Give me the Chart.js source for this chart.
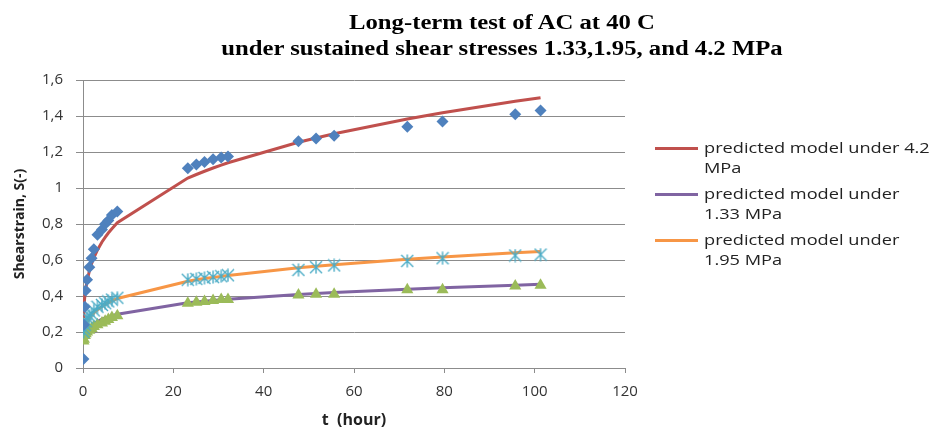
<!DOCTYPE html>
<html>
<head>
<meta charset="utf-8">
<script src="https://cdn.jsdelivr.net/npm/chart.js@4.4.0/dist/chart.umd.min.js"></script>
<style>
  html, body { margin: 0; padding: 0; background: #fff; }
  #wrap { position: relative; width: 934px; height: 430px; overflow: hidden; }
  #chart { position: absolute; left: 0; top: 0; }
  #title {
    position: absolute; left: 102px; width: 800px; top: 9px;
    text-align: center; white-space: nowrap;
    font-family: "Liberation Serif", serif; font-weight: bold;
    font-size: 20px; line-height: 26px; color: #000;
    transform: scaleX(1.235); transform-origin: 50% 50%;
  }
  .item { position: absolute; left: 655px; }
  .sw { position: absolute; left: 0; top: 9px; width: 43px; height: 3px; }
  .txt {
    position: absolute; left: 49px; top: 0; white-space: nowrap;
    font-family: "Open Sans", sans-serif; font-size: 14px; line-height: 20px; color: #222;
    transform: scaleX(1.3); transform-origin: 0 50%;
  }
</style>
</head>
<body>
<div id="wrap">
  <canvas id="chart" width="934" height="430"></canvas>
  <div id="title">Long-term test of AC at 40 C<br>under sustained shear stresses 1.33,1.95, and 4.2 MPa</div>
  <div id="legend"></div>
</div>
<script>
// time of each reading (hours)
const timeHours = [0.1, 0.2, 0.4, 0.6, 0.9, 1.4, 1.9, 2.4, 3.2, 4.2, 4.9, 5.6, 6.4, 7.6,
  23.2, 25.1, 26.9, 28.8, 30.6, 32.1, 47.7, 51.6, 55.6, 71.8, 79.6, 95.7, 101.3];

// measured shear strain
const measured42 = [0.05, 0.24, 0.34, 0.43, 0.49, 0.56, 0.61, 0.66, 0.74, 0.77, 0.80, 0.82, 0.85, 0.87,
  1.11, 1.13, 1.145, 1.16, 1.17, 1.175, 1.26, 1.275, 1.29, 1.34, 1.37, 1.41, 1.43];
const measured195 = [0.20, 0.22, 0.24, 0.26, 0.28, 0.29, 0.30, 0.32, 0.34, 0.35, 0.36, 0.37, 0.38, 0.39,
  0.49, 0.495, 0.50, 0.505, 0.51, 0.515, 0.545, 0.56, 0.57, 0.595, 0.61, 0.625, 0.63];
const measured133 = [0.15, 0.16, 0.18, 0.19, 0.20, 0.21, 0.22, 0.23, 0.24, 0.25, 0.26, 0.27, 0.28, 0.29,
  0.36, 0.365, 0.37, 0.375, 0.38, 0.38, 0.405, 0.41, 0.41, 0.435, 0.435, 0.455, 0.46];

// predicted model curves
const model42 = [0.285, 0.337, 0.398, 0.439, 0.483, 0.538, 0.579, 0.612, 0.656, 0.70, 0.726, 0.75, 0.774, 0.807,
  1.055, 1.075, 1.093, 1.111, 1.127, 1.14, 1.254, 1.278, 1.301, 1.383, 1.418, 1.482, 1.502];
const model133 = [0.143, 0.161, 0.181, 0.194, 0.208, 0.224, 0.236, 0.246, 0.258, 0.271, 0.278, 0.284, 0.291, 0.299,
  0.362, 0.367, 0.371, 0.375, 0.379, 0.382, 0.409, 0.414, 0.42, 0.438, 0.446, 0.46, 0.465];
const model195 = [0.162, 0.186, 0.214, 0.232, 0.252, 0.275, 0.292, 0.306, 0.324, 0.342, 0.353, 0.363, 0.373, 0.386,
  0.482, 0.49, 0.497, 0.503, 0.509, 0.514, 0.557, 0.565, 0.574, 0.604, 0.617, 0.64, 0.647];

const yTickLabels = ["0", "0,2", "0,4", "0,6", "0,8", "1", "1,2", "1,4", "1,6"];
const legendLabels = [
  ["predicted model under 4.2", "MPa"],
  ["predicted model under", "1.33 MPa"],
  ["predicted model under", "1.95 MPa"]
];
const legendColors = ["#C0504D", "#8064A2", "#F79646"];

const toPoints = (vals) => vals.map((v, i) => ({ x: timeHours[i], y: v }));

// excel style asterisk marker
function makeStar(color, size) {
  const c = document.createElement("canvas");
  c.width = size; c.height = size;
  const g = c.getContext("2d");
  g.strokeStyle = color;
  g.lineWidth = 1.4;
  const m = size / 2, r = size / 2 - 1;
  g.beginPath();
  g.moveTo(m - r, m - r); g.lineTo(m + r, m + r);
  g.moveTo(m + r, m - r); g.lineTo(m - r, m + r);
  g.moveTo(m, m - r - 0.5); g.lineTo(m, m + r + 0.5);
  g.stroke();
  return c;
}

const gridGray = "#8c8c8c";
const tickFont = { family: "Open Sans", size: 15 };

new Chart(document.getElementById("chart"), {
  type: "scatter",
  data: {
    datasets: [
      { data: toPoints(measured42), pointStyle: "rectRot", pointRadius: 6, backgroundColor: "#4F81BD", borderColor: "#4F81BD", borderWidth: 0 },
      { data: toPoints(measured195), pointStyle: makeStar("#4BACC6", 14), pointRadius: 7 },
      { data: toPoints(measured133), pointStyle: "triangle", pointRadius: 7, backgroundColor: "#9BBB59", borderColor: "#9BBB59", borderWidth: 0 },
      { data: toPoints(model42), showLine: true, pointRadius: 0, borderColor: legendColors[0], borderWidth: 3 },
      { data: toPoints(model133), showLine: true, pointRadius: 0, borderColor: legendColors[1], borderWidth: 3 },
      { data: toPoints(model195), showLine: true, pointRadius: 0, borderColor: legendColors[2], borderWidth: 3 }
    ]
  },
  options: {
    responsive: false,
    animation: false,
    layout: { padding: { left: 0, top: 80, right: 309, bottom: 0 } },
    plugins: { legend: { display: false }, tooltip: { enabled: false } },
    scales: {
      x: {
        type: "linear", min: 0, max: 120,
        ticks: { stepSize: 20, padding: 10, color: "#333", font: tickFont },
        grid: { drawOnChartArea: false, drawTicks: true, tickLength: 5, color: gridGray },
        border: { color: gridGray },
        title: { display: true, text: "t  (hour)", color: "#222", padding: { top: 0, bottom: 0 },
          font: { family: "Open Sans", size: 16, weight: "bold" } },
        afterFit: (s) => { s.height = 62; }
      },
      y: {
        min: 0, max: 1.6,
        ticks: { stepSize: 0.2, padding: 13, color: "#333", font: tickFont,
          callback: (v, i) => yTickLabels[i] },
        grid: { color: gridGray, tickLength: 7 },
        border: { color: gridGray },
        title: { display: true, text: "Shearstrain, S(-)", color: "#222", padding: { top: 12, bottom: 0 },
          font: { family: "Open Sans", size: 14, weight: "bold" } },
        afterFit: (s) => { s.width = 83; }
      }
    }
  }
});

// legend with wrapped labels
const legendEl = document.getElementById("legend");
legendLabels.forEach((lines, i) => {
  const item = document.createElement("div");
  item.className = "item";
  item.style.top = (138 + i * 46) + "px";
  item.innerHTML = '<span class="sw" style="background:' + legendColors[i] + '"></span>' +
    '<div class="txt">' + lines.join("<br>") + "</div>";
  legendEl.appendChild(item);
});
</script>
</body>
</html>
